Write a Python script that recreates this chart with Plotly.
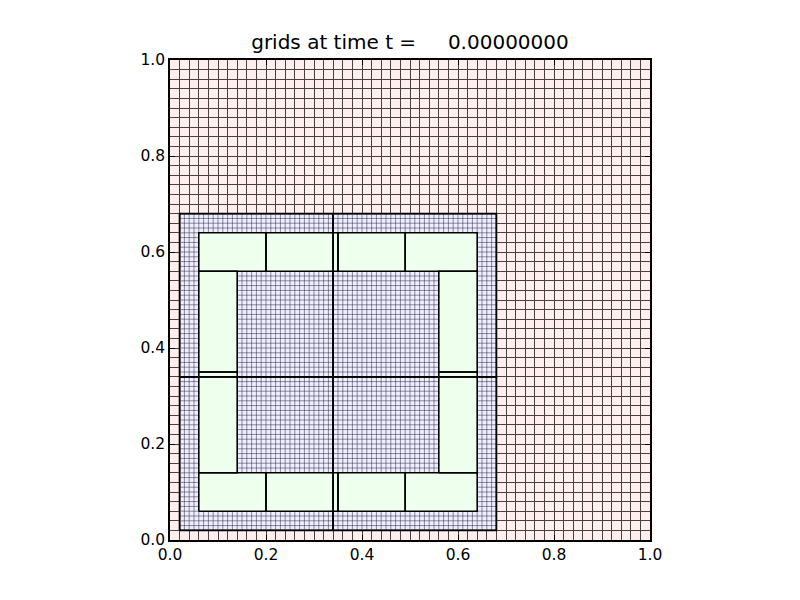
import plotly.graph_objects as go

# ---- data: AMR patches (level, bounds, cell size) ----
lvl1_x0 = [0.0]; lvl1_x1 = [1.0]; lvl1_y0 = [0.0]; lvl1_y1 = [1.0]
lvl1_dx = 0.02

lvl2_x0 = [0.02, 0.34, 0.02, 0.34]
lvl2_x1 = [0.34, 0.68, 0.34, 0.68]
lvl2_y0 = [0.02, 0.02, 0.34, 0.34]
lvl2_y1 = [0.34, 0.34, 0.68, 0.68]
lvl2_dx = 0.01

lvl3_x0 = [0.06, 0.20, 0.34, 0.35, 0.49,
           0.06, 0.20, 0.34, 0.35, 0.49,
           0.06, 0.06, 0.06,
           0.56, 0.56, 0.56]
lvl3_x1 = [0.20, 0.34, 0.35, 0.49, 0.64,
           0.20, 0.34, 0.35, 0.49, 0.64,
           0.14, 0.14, 0.14,
           0.64, 0.64, 0.64]
lvl3_y0 = [0.56, 0.56, 0.56, 0.56, 0.56,
           0.06, 0.06, 0.06, 0.06, 0.06,
           0.14, 0.34, 0.35,
           0.14, 0.34, 0.35]
lvl3_y1 = [0.64, 0.64, 0.64, 0.64, 0.64,
           0.14, 0.14, 0.14, 0.14, 0.14,
           0.34, 0.35, 0.56,
           0.34, 0.35, 0.56]

title_text = "grids at time t = " + "\u00a0" * 4 + "0.00000000"
tick_vals = [0.0, 0.2, 0.4, 0.6, 0.8, 1.0]
tick_text = ["0.0", "0.2", "0.4", "0.6", "0.8", "1.0"]

fill1 = "#ffeeee"
fill2 = "#eeeeff"
fill3 = "#eeffee"
grid1_color = "#4a4040"


def rect_paths(x0s, x1s, y0s, y1s):
    xs, ys = [], []
    for a, b, c, d in zip(x0s, x1s, y0s, y1s):
        xs += [a, b, b, a, a, None]
        ys += [c, c, d, d, c, None]
    return xs, ys


def grid_paths(x0s, x1s, y0s, y1s, dx):
    xs, ys = [], []
    for a, b, c, d in zip(x0s, x1s, y0s, y1s):
        n = int(round((b - a) / dx))
        for i in range(n + 1):
            x = a + i * dx
            xs += [x, x, None]; ys += [c, d, None]
        m = int(round((d - c) / dx))
        for j in range(m + 1):
            y = c + j * dx
            xs += [a, b, None]; ys += [y, y, None]
    return xs, ys


fig = go.Figure()

# level 1: covers the whole domain -> drawn as plot background + axis grid at lvl1_dx

# level 2
px, py = rect_paths(lvl2_x0, lvl2_x1, lvl2_y0, lvl2_y1)
fig.add_trace(go.Scatter(x=px, y=py, fill="toself", fillcolor=fill2, mode="none",
                         hoverinfo="skip", showlegend=False))
gx, gy = grid_paths(lvl2_x0, lvl2_x1, lvl2_y0, lvl2_y1, lvl2_dx)
fig.add_trace(go.Scatter(x=gx, y=gy, mode="lines", line=dict(color="rgba(30,30,50,0.7)", width=0.7),
                         hoverinfo="skip", showlegend=False))
fig.add_trace(go.Scatter(x=px, y=py, mode="lines", line=dict(color="black", width=1.6),
                         hoverinfo="skip", showlegend=False))

# level 3
px, py = rect_paths(lvl3_x0, lvl3_x1, lvl3_y0, lvl3_y1)
fig.add_trace(go.Scatter(x=px, y=py, fill="toself", fillcolor=fill3, mode="none",
                         hoverinfo="skip", showlegend=False))
fig.add_trace(go.Scatter(x=px, y=py, mode="lines", line=dict(color="black", width=1.6),
                         hoverinfo="skip", showlegend=False))

# level 2 patch boundaries remain visible on top
px2, py2 = rect_paths(lvl2_x0, lvl2_x1, lvl2_y0, lvl2_y1)
fig.add_trace(go.Scatter(x=px2, y=py2, mode="lines", line=dict(color="black", width=1.4),
                         hoverinfo="skip", showlegend=False))

axis_common = dict(range=[lvl1_x0[0], lvl1_x1[0]], showgrid=True, gridcolor=grid1_color, gridwidth=1,
                   zeroline=False, showline=True,
                   linecolor="black", linewidth=1.5, mirror="ticks", ticks="inside",
                   ticklen=5, tickwidth=1, tickcolor="black",
                   tickvals=tick_vals, ticktext=tick_text,
                   minor=dict(tick0=0, dtick=lvl1_dx, showgrid=True, gridcolor=grid1_color,
                              gridwidth=1, ticks=""),
                   tickfont=dict(family="DejaVu Sans", size=15.5, color="black"))

fig.update_layout(
    width=792, height=592, autosize=False,
    margin=dict(l=162, r=150, t=52, b=60),
    paper_bgcolor="white", plot_bgcolor=fill1,
    title=dict(text=title_text, x=0.5, xref="paper", xanchor="center",
               y=1 - 34 / 592, yref="container", yanchor="middle",
               font=dict(family="DejaVu Sans", size=20, color="black")),
    xaxis=dict(**axis_common, constrain="domain"),
    yaxis=dict(**axis_common),
)

fig.write_html("out.html")
